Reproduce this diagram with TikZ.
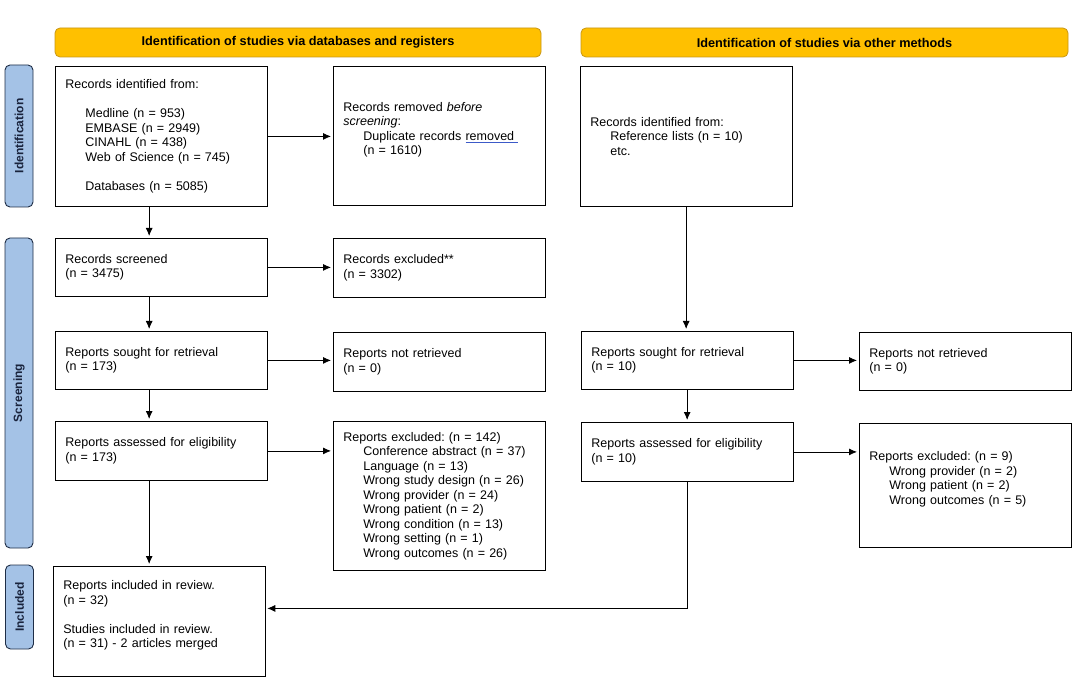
\documentclass[tikz,border=0pt]{standalone}
\usepackage{fontspec}
\setmainfont{Liberation Sans}
\usetikzlibrary{positioning, arrows.meta}
\definecolor{headfill}{RGB}{255,192,0}
\definecolor{headline}{RGB}{200,150,20}
\definecolor{sidefill}{RGB}{164,194,230}
\definecolor{sideline}{RGB}{30,45,70}
\definecolor{sidetext}{RGB}{25,35,60}
\definecolor{spellblue}{RGB}{60,90,200}
\frenchspacing

\begin{document}
\begin{tikzpicture}[x=1pt, y=-1pt, >={Latex[length=8pt,width=7pt]},
    font=\fontsize{12.5}{14.5}\selectfont,
    box/.style={draw, line width=0.8pt, anchor=north west, align=left,
                inner xsep=10pt, inner ysep=0pt, text width=191.5pt,
                minimum height=58pt},
    head/.style={draw=headline, fill=headfill, line width=0.8pt,
                 rounded corners=5pt, minimum width=486pt, minimum height=29pt,
                 font=\fontsize{12.7}{14.5}\selectfont\bfseries},
    side/.style={draw=sideline, fill=sidefill, line width=0.9pt,
                 rounded corners=5pt, rotate=90, minimum height=28pt,
                 text=sidetext, font=\fontsize{12}{14.5}\selectfont\bfseries},
    flow/.style={->, line width=0.8pt, shorten >=2pt}]
\useasboundingbox (0,0) rectangle (1080,695);

% headers and phases
\node[head] (h1) at (298,42.5) {Identification of studies via databases and registers};
\node[head, minimum width=487pt] (h2) at (824.5,42.5) {Identification of studies via other methods};
\node[side, minimum width=142pt] (p1) at (19,136) {Identification};
\node[side, minimum width=310pt] (p2) at (19,393) {Screening};
\node[side, minimum width=84pt] (p3) at (19.5,607) {Included};

% databases and registers
\node[box, minimum height=140pt] (id1) at (55,66) {Records identified from:\\[14.5pt]
  \hspace*{20pt}Medline (n = 953)\\
  \hspace*{20pt}EMBASE (n = 2949)\\
  \hspace*{20pt}CINAHL (n = 438)\\
  \hspace*{20pt}Web of Science (n = 745)\\[14.5pt]
  \hspace*{20pt}Databases (n = 5085)};
\node[box, minimum height=139pt] (rm1) at (333,66) {Records removed \emph{before}\\
  \emph{screening}:\\
  \hspace*{20pt}Duplicate records {\color{spellblue}\underline{\textcolor{black}{removed\ }}}\\
  \hspace*{20pt}(n = 1610)\\\mbox{}};
\node[box] (scr1) at (55,238) {Records screened\\(n = 3475)};
\node[box, minimum height=59pt] (exc1) at (333,238) {Records excluded**\\(n = 3302)};
\node[box] (so1) at (55,331) {Reports sought for retrieval\\(n = 173)};
\node[box, minimum height=59pt] (nr1) at (333,332) {Reports not retrieved\\(n = 0)};
\node[box, minimum height=59pt] (as1) at (55,421) {Reports assessed for eligibility\\(n = 173)};
\node[box, minimum height=149pt] (ex1) at (333,421) {Reports excluded: (n = 142)\\
  \hspace*{20pt}Conference abstract (n = 37)\\
  \hspace*{20pt}Language (n = 13)\\
  \hspace*{20pt}Wrong study design (n = 26)\\
  \hspace*{20pt}Wrong provider (n = 24)\\
  \hspace*{20pt}Wrong patient (n = 2)\\
  \hspace*{20pt}Wrong condition (n = 13)\\
  \hspace*{20pt}Wrong setting (n = 1)\\
  \hspace*{20pt}Wrong outcomes (n = 26)};
\node[box, minimum height=110pt] (inc) at (53,566) {Reports included in review.\\(n = 32)\\[14.5pt]
  Studies included in review.\\(n = 31) - 2 articles merged\\\mbox{}};

% other methods
\node[box, minimum height=140pt] (ot2) at (580,66) {Records identified from:\\
  \hspace*{20pt}Reference lists (n = 10)\\
  \hspace*{20pt}etc.};
\node[box] (so2) at (581,331) {Reports sought for retrieval\\(n = 10)};
\node[box] (nr2) at (859,332) {Reports not retrieved\\(n = 0)};
\node[box, minimum height=59pt] (as2) at (581,422) {Reports assessed for eligibility\\(n = 10)};
\node[box, minimum height=124pt] (ex2) at (859,423) {Reports excluded: (n = 9)\\
  \hspace*{20pt}Wrong provider (n = 2)\\
  \hspace*{20pt}Wrong patient (n = 2)\\
  \hspace*{20pt}Wrong outcomes (n = 5)\\\mbox{}};

% connectors
\draw[flow] ([xshift=-12pt]id1.south) -- ([xshift=-12pt]scr1.north);
\draw[flow] ([xshift=-12pt]scr1.south) -- ([xshift=-12pt]so1.north);
\draw[flow] ([xshift=-12pt]so1.south) -- ([xshift=-12pt]as1.north);
\draw[flow] ([xshift=-12pt]as1.south) -- ([xshift=-12pt]as1.south |- inc.north);
\draw[flow] (id1.east) -- (id1.east -| rm1.west);
\draw[flow] (scr1.east) -- (scr1.east -| exc1.west);
\draw[flow] (so1.east) -- (so1.east -| nr1.west);
\draw[flow] (as1.east) -- (as1.east -| ex1.west);
\draw[flow] (ot2.south) -- (ot2.south |- so2.north);
\draw[flow] (so2.south) -- (so2.south |- as2.north);
\draw[flow] (so2.east) -- (so2.east -| nr2.west);
\draw[flow] (as2.east) -- (as2.east -| ex2.west);
\draw[flow] (as2.south) |- ([yshift=13pt]inc.east);
\end{tikzpicture}
\end{document}
